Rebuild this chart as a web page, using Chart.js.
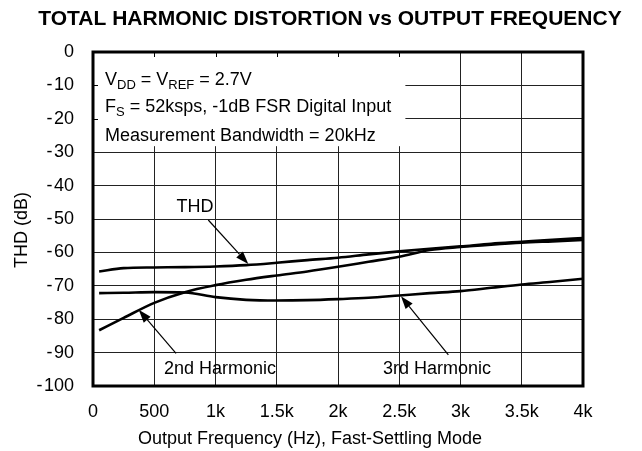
<!DOCTYPE html>
<html>
<head>
<meta charset="utf-8">
<script src="https://cdn.jsdelivr.net/npm/chart.js@4/dist/chart.umd.min.js"></script>
<style>
  html, body { margin: 0; padding: 0; background: #fff; }
  canvas { display: block; }
</style>
</head>
<body>
<canvas id="chartTHD" width="642" height="451"></canvas>
<script>
const freq = [50, 250, 500, 750, 1000, 1250, 1500, 1750, 2000, 2250, 2500, 2750, 3000, 3250, 3500, 3750, 4000];
const thd = [-65.7, -64.7, -64.5, -64.4, -64.2, -63.8, -63.1, -62.3, -61.6, -60.6, -59.7, -58.9, -58.2, -57.4, -56.8, -56.2, -55.7];
const harm2 = [-83.3, -79.6, -75.1, -71.9, -69.8, -68.2, -66.9, -65.7, -64.3, -62.8, -61.3, -59.3, -58.4, -57.7, -57.1, -56.7, -56.3];
const harm3 = [-72.2, -72.1, -71.9, -72.0, -73.4, -74.2, -74.4, -74.3, -74.0, -73.6, -72.9, -72.2, -71.6, -70.6, -69.6, -68.8, -67.9];
const xTickLabels = ['0', '500', '1k', '1.5k', '2k', '2.5k', '3k', '3.5k', '4k'];

// callouts: label position, arrow tail and arrow tip, all in data units
const callouts = [
    { text: 'THD', x: 833, y: -46.5, tail: [941, -50.3], tip: [1268, -63.5] },
    { text: '2nd Harmonic', x: 1037, y: -94.9, tail: [678, -90.2], tip: [373, -77.2] },
    { text: '3rd Harmonic', x: 2808, y: -94.9, tail: [2901, -90.7], tip: [2514, -73.1] }
];

const FONT = '"Liberation Sans", Arial, Helvetica, sans-serif';

const toPoints = (ys) => freq.map((f, i) => ({ x: f, y: ys[i] }));

function lineDs(label, ys) {
    return {
        label: label,
        data: toPoints(ys),
        borderColor: '#000',
        borderWidth: 2.6,
        pointRadius: 0,
        fill: false,
        cubicInterpolationMode: 'monotone'
    };
}

function drawSub(ctx, parts, x, y) {
    // parts: [text, isSub]
    let cx = x;
    parts.forEach(p => {
        if (p[1]) {
            ctx.font = '13px ' + FONT;
            ctx.fillText(p[0], cx, y + 4);
        } else {
            ctx.font = '18px ' + FONT;
            ctx.fillText(p[0], cx, y);
        }
        cx += ctx.measureText(p[0]).width;
    });
}

const decor = {
    id: 'decor',
    beforeDatasetsDraw(chart) {
        const { ctx, chartArea: a, scales } = chart;
        const x = scales.x, y = scales.y;
        ctx.save();
        // white box behind the conditions text
        ctx.fillStyle = '#fff';
        const bx2 = x.getPixelForValue(2550);
        const by2 = y.getPixelForValue(-28.2);
        ctx.fillRect(a.left, a.top, bx2 - a.left, by2 - a.top);
        // small tick marks on the border inside the box
        ctx.strokeStyle = '#000';
        ctx.lineWidth = 1;
        for (let v = 500; v <= 2500; v += 500) {
            const px = Math.round(x.getPixelForValue(v)) + 0.5;
            ctx.beginPath();
            ctx.moveTo(px, a.top);
            ctx.lineTo(px, a.top + 5);
            ctx.stroke();
        }
        for (let v = -10; v >= -20; v -= 10) {
            const py = Math.round(y.getPixelForValue(v)) + 0.5;
            ctx.beginPath();
            ctx.moveTo(a.left, py);
            ctx.lineTo(a.left + 5, py);
            ctx.stroke();
        }
        // conditions text
        ctx.fillStyle = '#000';
        ctx.textAlign = 'left';
        ctx.textBaseline = 'alphabetic';
        const tx = a.left + 12;
        drawSub(ctx, [['V', 0], ['DD', 1], [' = V', 0], ['REF', 1], [' = 2.7V', 0]], tx, a.top + 33);
        drawSub(ctx, [['F', 0], ['S', 1], [' = 52ksps, -1dB FSR Digital Input', 0]], tx, a.top + 60);
        drawSub(ctx, [['Measurement Bandwidth = 20kHz', 0]], tx, a.top + 88.5);
        ctx.restore();
    },
    afterDatasetsDraw(chart) {
        const { ctx, chartArea: a, scales } = chart;
        const x = scales.x, y = scales.y;
        ctx.save();
        // frame
        ctx.strokeStyle = '#000';
        ctx.lineWidth = 3;
        ctx.strokeRect(a.left, a.top, a.right - a.left, a.bottom - a.top);
        // callouts with arrows
        ctx.fillStyle = '#000';
        ctx.font = '18px ' + FONT;
        ctx.textAlign = 'center';
        ctx.textBaseline = 'middle';
        callouts.forEach(c => {
            ctx.fillText(c.text, x.getPixelForValue(c.x), y.getPixelForValue(c.y));
            const x0 = x.getPixelForValue(c.tail[0]), y0 = y.getPixelForValue(c.tail[1]);
            const x1 = x.getPixelForValue(c.tip[0]), y1 = y.getPixelForValue(c.tip[1]);
            const ang = Math.atan2(y1 - y0, x1 - x0);
            const hl = 13, hw = 4.5;
            const bxp = x1 - hl * Math.cos(ang), byp = y1 - hl * Math.sin(ang);
            ctx.lineWidth = 1.2;
            ctx.beginPath();
            ctx.moveTo(x0, y0);
            ctx.lineTo(bxp, byp);
            ctx.stroke();
            ctx.beginPath();
            ctx.moveTo(x1, y1);
            ctx.lineTo(bxp + hw * Math.sin(ang), byp - hw * Math.cos(ang));
            ctx.lineTo(bxp - hw * Math.sin(ang), byp + hw * Math.cos(ang));
            ctx.closePath();
            ctx.fill();
        });
        // chart title and axis titles
        ctx.font = 'bold 21px ' + FONT;
        ctx.fillText('TOTAL HARMONIC DISTORTION vs OUTPUT FREQUENCY', 330, 19);
        ctx.font = '18px ' + FONT;
        ctx.fillText('Output Frequency (Hz), Fast-Settling Mode', 310, 439);
        ctx.translate(22, 230);
        ctx.rotate(-Math.PI / 2);
        ctx.fillText('THD (dB)', 0, 0);
        ctx.restore();
    }
};

var myChart = new Chart(document.getElementById('chartTHD'), {
    type: 'line',
    data: {
        datasets: [
            lineDs('THD', thd),
            lineDs('2nd Harmonic', harm2),
            lineDs('3rd Harmonic', harm3)
        ]
    },
    options: {
        responsive: false,
        animation: false,
        layout: { padding: { top: 52, right: 59, left: 0, bottom: 0 } },
        plugins: {
            legend: { display: false },
            title: { display: false },
            tooltip: { enabled: false }
        },
        scales: {
            x: {
                type: 'linear',
                min: 0,
                max: 4000,
                afterFit: s => { s.height = 65; },
                ticks: {
                    stepSize: 500,
                    padding: 15,
                    color: '#000',
                    font: { family: FONT, size: 18 },
                    maxRotation: 0,
                    callback: (v) => xTickLabels[Math.round(v / 500)]
                },
                grid: { color: '#222', lineWidth: 1, drawTicks: false },
                border: { display: false }
            },
            y: {
                min: -100,
                max: 0,
                afterFit: s => { s.width = 93; },
                ticks: {
                    stepSize: 10,
                    padding: 19,
                    color: '#000',
                    font: { family: FONT, size: 18 },
                    callback: (v) => v === 0 ? '0' : '-\u200A' + Math.abs(v)
                },
                grid: { color: '#222', lineWidth: 1, drawTicks: false },
                border: { display: false }
            }
        }
    },
    plugins: [decor]
});
</script>
</body>
</html>
